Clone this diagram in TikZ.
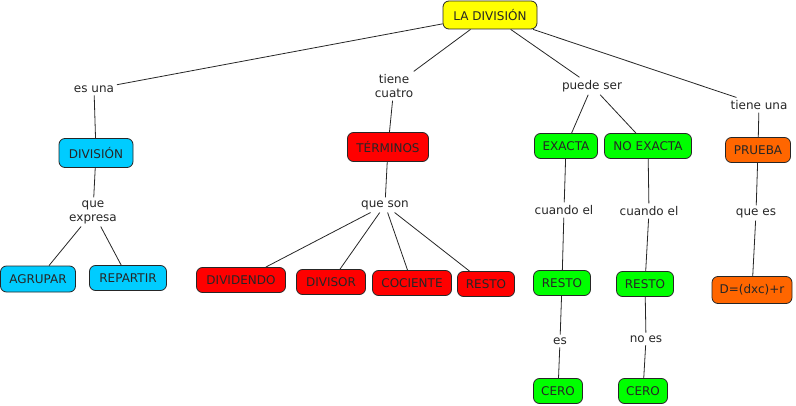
\documentclass[tikz,border=0pt]{standalone}
\usepackage{fontspec}
\setmainfont{DejaVu Sans}
\definecolor{cyanbox}{HTML}{00CCFF}
\definecolor{redbox}{HTML}{FF0000}
\definecolor{greenbox}{HTML}{00FF00}
\definecolor{orangebox}{HTML}{FF6600}
\definecolor{yellowbox}{HTML}{FFFF00}
\begin{document}
\begin{tikzpicture}[x=0.75pt,y=-0.75pt,
  every node/.style={font=\fontsize{9}{10.5}\selectfont},
  box/.style={draw=black!85, line width=0.6pt, rounded corners=4.5pt, inner sep=0pt, minimum height=18.75pt, text=black!85},
  lbl/.style={align=center, inner sep=2pt, text=black!85},
  conn/.style={draw=black!85, line width=0.6pt}]
\useasboundingbox (0,0) rectangle (796,406);
% nodes
\node[box, fill=yellowbox, minimum width=70.5pt, minimum height=21pt] (top) at (490,15) {LA DIVISIÓN};
\node[lbl] (esuna) at (94,89) {es una};
\node[box, fill=cyanbox, minimum width=55.5pt, minimum height=21.75pt] (div) at (96,153) {DIVISIÓN};
\node[lbl] (expresa) at (93,212) {que\\expresa};
\node[box, fill=cyanbox, minimum width=56.25pt, minimum height=19.5pt] (agrupar) at (38,279) {AGRUPAR};
\node[box, fill=cyanbox, minimum width=57.75pt] (repartir) at (128,278) {REPARTIR};
\node[lbl] (cuatro) at (394,86) {tiene\\cuatro};
\node[box, fill=redbox, minimum width=60.75pt, minimum height=21.75pt] (term) at (388,147) {TÉRMINOS};
\node[lbl] (queson) at (385,205) {que son};
\node[box, fill=redbox, minimum width=66.75pt] (dividendo) at (241,280) {DIVIDENDO};
\node[box, fill=redbox, minimum width=51.75pt] (divisor) at (331,282) {DIVISOR};
\node[box, fill=redbox, minimum width=59.25pt] (cociente) at (412,283) {COCIENTE};
\node[box, fill=redbox, minimum width=42.75pt] (restor) at (486,284) {RESTO};
\node[lbl] (puede) at (592,86) {puede ser};
\node[box, fill=greenbox, minimum width=47.25pt] (exacta) at (566,146) {EXACTA};
\node[box, fill=greenbox, minimum width=65.25pt] (noexacta) at (648,146) {NO EXACTA};
\node[lbl] (tieneuna) at (759,105) {tiene una};
\node[box, fill=orangebox, minimum width=48.75pt] (prueba) at (758,150) {PRUEBA};
\node[lbl] (cuando1) at (564,210) {cuando el};
\node[lbl] (cuando2) at (649,211) {cuando el};
\node[lbl] (quees) at (756,213) {que es};
\node[box, fill=greenbox, minimum width=42.75pt] (resto1) at (562,283) {RESTO};
\node[box, fill=greenbox, minimum width=42.75pt] (resto2) at (645,284) {RESTO};
\node[box, fill=orangebox, minimum width=60pt, minimum height=20.25pt] (formula) at (752,290) {D=(dxc)+r};
\node[lbl] (es) at (560,341) {es};
\node[lbl] (noes) at (646,339) {no es};
\node[box, fill=greenbox, minimum width=36.75pt] (cero1) at (558,391) {CERO};
\node[box, fill=greenbox, minimum width=36.75pt] (cero2) at (643,391) {CERO};
% connectors
\draw[conn] (top) -- (esuna);
\draw[conn] (esuna) -- (div);
\draw[conn] (div) -- (expresa);
\draw[conn] (expresa) -- (agrupar);
\draw[conn] (expresa) -- (repartir);
\draw[conn] (top) -- (cuatro);
\draw[conn] (cuatro) -- (term);
\draw[conn] (term) -- (queson);
\draw[conn] (queson) -- (dividendo);
\draw[conn] (queson) -- (divisor);
\draw[conn] (queson) -- (cociente);
\draw[conn] (queson) -- (restor);
\draw[conn] (top) -- (puede);
\draw[conn] (puede) -- (exacta);
\draw[conn] (puede) -- (noexacta);
\draw[conn] (top) -- (tieneuna);
\draw[conn] (tieneuna) -- (prueba);
\draw[conn] (exacta) -- (cuando1);
\draw[conn] (cuando1) -- (resto1);
\draw[conn] (resto1) -- (es);
\draw[conn] (es) -- (cero1);
\draw[conn] (noexacta) -- (cuando2);
\draw[conn] (cuando2) -- (resto2);
\draw[conn] (resto2) -- (noes);
\draw[conn] (noes) -- (cero2);
\draw[conn] (prueba) -- (quees);
\draw[conn] (quees) -- (formula);
\end{tikzpicture}
\end{document}
